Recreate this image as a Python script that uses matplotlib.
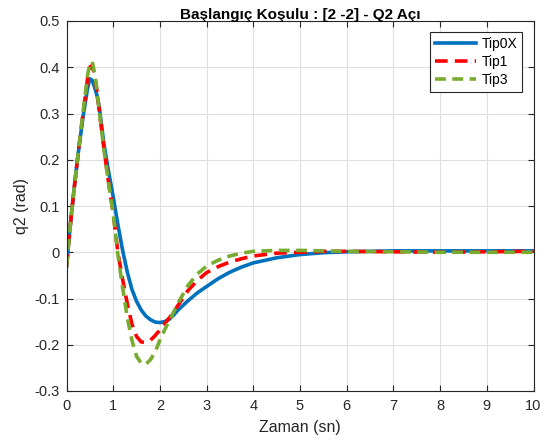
import matplotlib
matplotlib.use("Agg")
import matplotlib.pyplot as plt
from matplotlib.ticker import FixedLocator, FixedFormatter

plt.rcParams['font.family'] = ['Liberation Sans', 'DejaVu Sans']

t = [0, 0.05, 0.1, 0.15, 0.2, 0.25, 0.3, 0.35, 0.4, 0.45, 0.5, 0.55, 0.6, 0.65, 0.7,
     0.8, 0.9, 1.0, 1.1, 1.2, 1.3, 1.4, 1.5, 1.6, 1.7, 1.8, 1.9, 2.0, 2.1, 2.2, 2.3,
     2.4, 2.6, 2.8, 3.0, 3.25, 3.5, 3.75, 4.0, 4.5, 5.0, 5.5, 6.0, 7.0, 8.0, 9.0, 10.0]

tip0x = [-0.032, 0.025, 0.077, 0.125, 0.17, 0.213, 0.252, 0.29, 0.322, 0.354, 0.375,
         0.372, 0.357, 0.34, 0.315, 0.235, 0.175, 0.12, 0.06, 0.005, -0.042, -0.08,
         -0.106, -0.125, -0.138, -0.146, -0.151, -0.152, -0.15, -0.145, -0.135,
         -0.124, -0.105, -0.088, -0.074, -0.057, -0.043, -0.032, -0.023, -0.012,
         -0.005, -0.001, 0.001, 0.003, 0.003, 0.003, 0.003]

tip1 = [-0.032, 0.025, 0.077, 0.125, 0.17, 0.214, 0.255, 0.296, 0.335, 0.375, 0.4,
        0.404, 0.385, 0.35, 0.308, 0.225, 0.152, 0.085, 0.0, -0.058, -0.11, -0.155,
        -0.182, -0.194, -0.195, -0.19, -0.18, -0.168, -0.155, -0.142, -0.128,
        -0.113, -0.083, -0.061, -0.044, -0.031, -0.021, -0.014, -0.008, -0.002,
        0.0, 0.002, 0.002, 0.001, 0.0, 0.001, 0.002]

tip3 = [-0.032, 0.025, 0.077, 0.125, 0.17, 0.215, 0.257, 0.3, 0.34, 0.382, 0.408,
        0.412, 0.388, 0.352, 0.307, 0.222, 0.15, 0.084, -0.005, -0.075, -0.14, -0.19,
        -0.225, -0.24, -0.242, -0.232, -0.215, -0.19, -0.168, -0.148, -0.128,
        -0.108, -0.072, -0.047, -0.03, -0.017, -0.008, -0.002, 0.002, 0.004,
        0.004, 0.003, 0.002, 0.001, 0.0, 0.0, 0.0]

xticks = [0, 1, 2, 3, 4, 5, 6, 7, 8, 9, 10]
xticklabels = ['0', '1', '2', '3', '4', '5', '6', '7', '8', '9', '10']
yticks = [-0.3, -0.2, -0.1, 0, 0.1, 0.2, 0.3, 0.4, 0.5]
yticklabels = ['-0.3', '-0.2', '-0.1', '0', '0.1', '0.2', '0.3', '0.4', '0.5']

fig = plt.figure(figsize=(5.52, 4.43), dpi=100)
ax = fig.add_axes([66.5/552, 1-391/443, (533.5-66.5)/552, (391-21)/443])

ax.plot(t, tip0x, color='#0072BD', lw=2.6, label='Tip0X', solid_joinstyle='round')
ax.plot(t, tip1, color='#FF0000', lw=2.6, dashes=(3.5, 2.0), label='Tip1')
ax.plot(t, tip3, color='#77AC30', lw=2.6, dashes=(3.0, 1.8), label='Tip3')

ax.set_xlim(0, 10)
ax.set_ylim(-0.3, 0.5)
ax.xaxis.set_major_locator(FixedLocator(xticks))
ax.xaxis.set_major_formatter(FixedFormatter(xticklabels))
ax.yaxis.set_major_locator(FixedLocator(yticks))
ax.yaxis.set_major_formatter(FixedFormatter(yticklabels))

ax.grid(True, color='#dfdfdf', lw=0.8)
ax.set_axisbelow(True)
ax.tick_params(direction='in', length=4, width=0.8, colors='#262626',
               labelsize=10.5, top=True, right=True)
ax.tick_params(axis='x', pad=6)
ax.tick_params(axis='y', pad=5)
for s in ax.spines.values():
    s.set_color('#262626')
    s.set_linewidth(0.8)

ax.set_xlabel('Zaman (sn)', fontsize=11.5, color='#262626', labelpad=5)
ax.set_ylabel('q2 (rad)', fontsize=11.5, color='#262626', labelpad=4)
ax.set_title('Başlangıç Koşulu : [2 -2] - Q2 Açı', fontsize=11, fontweight='bold',
             color='black', pad=1.5)

leg = ax.legend(loc='upper right', fontsize=10, frameon=True, fancybox=False,
                edgecolor='#262626', framealpha=1, borderaxespad=0.8,
                handlelength=3.0, labelspacing=0.3, borderpad=0.35,
                handletextpad=0.4)
leg.get_frame().set_linewidth(0.8)

fig.savefig('out.png', dpi=100)
